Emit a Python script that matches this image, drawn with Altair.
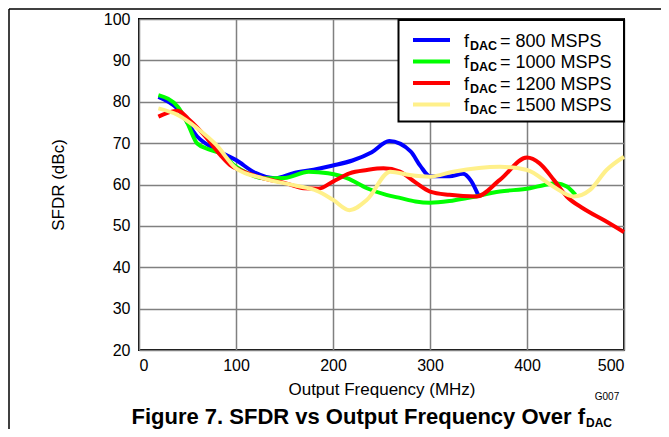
import altair as alt
import pandas as pd

# ---- data ----
f800 = [20, 40, 60, 80, 100, 120, 140, 160, 180, 200, 220, 240, 258, 280, 290, 300, 320, 334, 342, 350]
v800 = [81.2, 78.3, 71.6, 68.3, 65.9, 62.8, 61.5, 62.8, 63.6, 64.6, 65.8, 67.8, 70.5, 68.0, 64.5, 62.0, 62.0, 62.6, 61.0, 57.3]

f1000 = [20, 40, 50, 60, 72, 85, 100, 112, 128, 150, 175, 195, 215, 235, 255, 270, 285, 300, 320, 340, 372, 403, 418, 430, 441, 450]
v1000 = [81.6, 78.8, 74.8, 69.9, 68.5, 67.4, 64.3, 62.7, 61.5, 61.6, 63.1, 62.7, 61.5, 59.1, 57.5, 56.7, 55.9, 55.6, 56.0, 56.8, 58.3, 59.1, 59.9, 60.3, 59.5, 57.5]

f1200 = [20, 28, 40, 52, 70, 84, 94, 104, 128, 150, 170, 185, 200, 217, 235, 252, 269, 285, 300, 320, 348, 372, 400, 413, 428, 441, 458, 480, 500]
v1200 = [76.4, 77.2, 77.8, 75.6, 71.2, 67.1, 64.7, 63.5, 61.5, 60.4, 59.1, 59.0, 60.7, 62.7, 63.5, 63.9, 63.1, 60.5, 58.3, 57.5, 57.1, 61.1, 66.5, 65.1, 61.0, 57.1, 54.2, 51.3, 48.5]

f1500 = [20, 40, 60, 80, 100, 128, 162, 183, 200, 217, 235, 259, 279, 300, 324, 372, 400, 427, 448, 465, 482, 500]
v1500 = [78.4, 76.8, 73.6, 69.5, 63.9, 61.5, 59.7, 58.5, 56.3, 53.8, 56.3, 63.1, 62.3, 61.9, 63.1, 64.3, 63.5, 59.5, 57.1, 58.7, 63.5, 66.7]

series = ["800", "1000", "1200", "1500"]
colors = ["#0000FF", "#00FF00", "#FF0000", "#FFF08A"]
x_ticks = [0, 100, 200, 300, 400, 500]
y_ticks = [20, 30, 40, 50, 60, 70, 80, 90, 100]

FONT = "Liberation Sans"

color_scale = alt.Scale(domain=series, range=colors)

data = {"800": (f800, v800), "1000": (f1000, v1000),
        "1200": (f1200, v1200), "1500": (f1500, v1500)}

layers = []
# frame of the figure
layers.append(alt.Chart(pd.DataFrame({"a": [0]})).mark_rule(color="black", strokeWidth=1.5).encode(
    x=alt.value(-130), y=alt.value(-10), y2=alt.value(430)))
layers.append(alt.Chart(pd.DataFrame({"a": [0]})).mark_rule(color="black", strokeWidth=1.5).encode(
    x=alt.value(-130), x2=alt.value(540), y=alt.value(-10)))

for s in ["800", "1000", "1200", "1500"]:
    fx, fy = data[s]
    df = pd.DataFrame({"freq": fx, "sfdr": fy, "series": s})
    layers.append(
        alt.Chart(df).mark_line(strokeWidth=4, interpolate="monotone").encode(
            x=alt.X("freq:Q", scale=alt.Scale(domain=[0, 500], nice=False),
                    axis=alt.Axis(values=x_ticks, title="Output Frequency (MHz)",
                                  labelPadding=7, titlePadding=8, format="d")),
            y=alt.Y("sfdr:Q", scale=alt.Scale(domain=[20, 100], nice=False),
                    axis=alt.Axis(values=y_ticks, title="SFDR (dBc)",
                                  labelPadding=9, titlePadding=36, format="d")),
            color=alt.Color("series:N", scale=color_scale, legend=None),
        )
    )

# ---- manual legend ----
leg_rows = [21, 42.5, 64, 85.5]
leg = pd.DataFrame({"series": series, "ly": leg_rows,
                    "lab": ["= 800 MSPS", "= 1000 MSPS", "= 1200 MSPS", "= 1500 MSPS"]})
leg["ty"] = leg["ly"] + 6.5
leg["sy"] = leg["ly"] + 9.5

layers.append(alt.Chart(pd.DataFrame({"a": [0]})).mark_rect(fill="white", stroke="black", strokeWidth=2).encode(
    x=alt.value(259.5), x2=alt.value(485), y=alt.value(1), y2=alt.value(102.5)))
layers.append(alt.Chart(leg).mark_rule(strokeWidth=4).encode(
    x=alt.value(274), x2=alt.value(311), y=alt.Y("ly:Q", scale=None),
    color=alt.Color("series:N", scale=color_scale, legend=None)))
layers.append(alt.Chart(leg).mark_text(text="f", font=FONT, fontSize=18, align="left", baseline="alphabetic").encode(
    x=alt.value(325), y=alt.Y("ty:Q", scale=None)))
layers.append(alt.Chart(leg).mark_text(text="DAC", font=FONT, fontSize=12.5, fontWeight="bold", align="left", baseline="alphabetic").encode(
    x=alt.value(331), y=alt.Y("sy:Q", scale=None)))
layers.append(alt.Chart(leg).mark_text(font=FONT, fontSize=18, align="left", baseline="alphabetic").encode(
    x=alt.value(361), y=alt.Y("ty:Q", scale=None), text="lab:N"))

# ---- annotations ----
one = pd.DataFrame({"a": [0]})
layers.append(alt.Chart(one).mark_text(text="G007", font=FONT, fontSize=10, align="center", baseline="middle").encode(
    x=alt.value(468), y=alt.value(378)))
layers.append(alt.Chart(one).mark_text(text="Figure 7. SFDR vs Output Frequency Over f", font=FONT, fontSize=22,
                                       fontWeight="bold", align="right", baseline="alphabetic").encode(
    x=alt.value(446), y=alt.value(405)))
layers.append(alt.Chart(one).mark_text(text="DAC", font=FONT, fontSize=12, fontWeight="bold",
                                       align="left", baseline="alphabetic").encode(
    x=alt.value(447), y=alt.value(408)))

chart = alt.layer(*layers).properties(
    width=485, height=331,
    autosize=alt.AutoSizeParams(type="none"),
    padding={"left": 131, "top": 11, "right": 37, "bottom": 79},
).configure_view(
    stroke="black", strokeWidth=2
).configure_axis(
    labelFont=FONT, titleFont=FONT, labelFontSize=16, titleFontSize=17,
    titleFontWeight="normal", labelColor="black", titleColor="black",
    gridColor="#808080", gridWidth=1.5, domain=False, ticks=False,
)

chart.save("out.html", embed_options={"renderer": "svg", "actions": False})
